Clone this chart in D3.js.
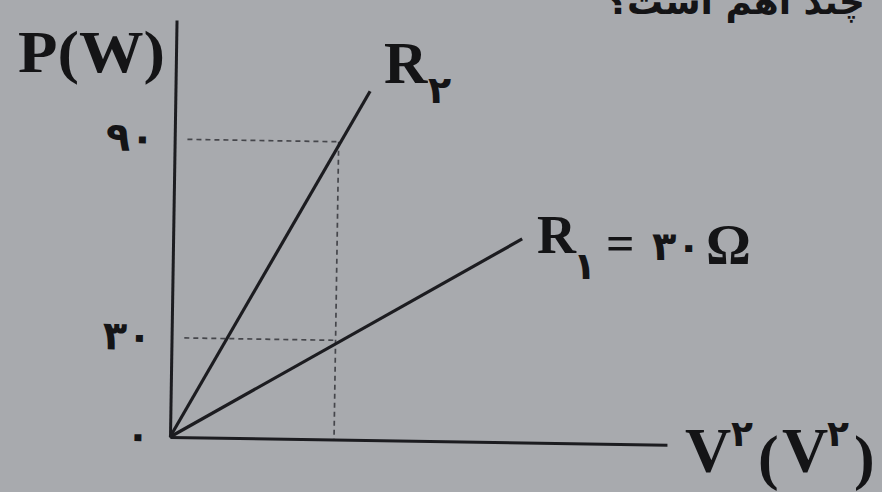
<!DOCTYPE html>
<html>
<head>
<meta charset="utf-8">
<script src="https://cdn.jsdelivr.net/npm/d3@7"></script>
<style>
  body { margin: 0; background: #a8aaae; }
  svg { display: block; }
  .lbl { font-family: "Liberation Serif", "DejaVu Serif", serif; font-weight: bold; fill: #141416; }
  .fa { font-family: "DejaVu Sans", "Noto Sans", sans-serif; font-weight: bold; fill: #141416; }
</style>
</head>
<body>
<div id="chart"></div>
<script>
// values
var xMax = 2727;           // end of the V^2 axis
var yMax = 126;            // top of the P axis
var pTicks = [0, 30, 90];
var guideV2 = 900;         // dashed vertical
var guideP = [30, 90];     // dashed horizontals
var r1Points = [[0, 0], [1915, 61.5]];
var r2Points = [[0, 0], [1068, 105.4]];

var faDigits = "۰۱۲۳۴۵۶۷۸۹";
function toFa(n) {
	return String(n).replace(/[0-9]/g, function (d) { return faDigits[+d]; });
}

var W = 882, H = 492;
var origin = { x: 170, y: 437 };

var svg = d3.select("#chart").append("svg")
	.attr("width", W)
	.attr("height", H);

svg.append("rect")
	.attr("width", W)
	.attr("height", H)
	.attr("fill", "#a8aaae");

// question text cut off at the top of the photo
svg.append("text")
	.attr("class", "fa")
	.attr("x", 865)
	.attr("y", 14)
	.attr("direction", "rtl")
	.attr("text-anchor", "start")
	.style("font-size", "36px")
	.text("چند اهم است؟");

var x = d3.scaleLinear()
	.domain([0, xMax])
	.range([0, 497]);

var y = d3.scaleLinear()
	.domain([0, yMax])
	.range([0, -417]);

// the page in the photo is slightly turned
var g = svg.append("g")
	.attr("transform", "translate(" + origin.x + "," + origin.y + ") rotate(0.9)");

// dashed guides
g.selectAll(".hguide")
	.data(guideP)
	.enter().append("line")
	.attr("class", "hguide")
	.attr("x1", x(70))
	.attr("x2", x(guideV2))
	.attr("y1", function (d) { return y(d); })
	.attr("y2", function (d) { return y(d); })
	.attr("stroke", "#45464b")
	.attr("stroke-width", 1.7)
	.attr("stroke-dasharray", "5,4");

g.append("line")
	.attr("x1", x(guideV2))
	.attr("x2", x(guideV2))
	.attr("y1", y(d3.max(guideP)))
	.attr("y2", y(0))
	.attr("stroke", "#45464b")
	.attr("stroke-width", 1.7)
	.attr("stroke-dasharray", "5,4");

// axes
var yAxis = g.append("g")
	.call(d3.axisLeft(y).tickValues(pTicks).tickSize(0).tickFormat(toFa).tickPadding(20));

var xAxis = g.append("g")
	.call(d3.axisBottom(x).tickValues([]).tickSize(0));

g.selectAll(".domain")
	.attr("stroke", "#1c1c20")
	.attr("stroke-width", 3);

yAxis.selectAll("text")
	.attr("class", "fa")
	.attr("fill", "#141416")
	.style("font-size", "40px")
	.attr("dy", "0.3em");

// lines
var line = d3.line()
	.x(function (d) { return x(d[0]); })
	.y(function (d) { return y(d[1]); });

g.selectAll(".rline")
	.data([r1Points, r2Points])
	.enter().append("path")
	.attr("class", "rline")
	.attr("d", line)
	.attr("fill", "none")
	.attr("stroke", "#1c1c20")
	.attr("stroke-width", 3.2);

// labels
svg.append("text")
	.attr("class", "lbl")
	.attr("x", 18)
	.attr("y", 72)
	.attr("textLength", 147)
	.attr("lengthAdjust", "spacingAndGlyphs")
	.style("font-size", "60px")
	.text("P(W)");

svg.append("text").attr("class", "lbl").attr("x", 384).attr("y", 83)
	.style("font-size", "60px").text("R");
svg.append("text").attr("class", "fa").attr("x", 428).attr("y", 103)
	.style("font-size", "38px").text("۲");

svg.append("text").attr("class", "lbl").attr("x", 537).attr("y", 253)
	.style("font-size", "54px").text("R");
svg.append("text").attr("class", "fa").attr("x", 573).attr("y", 279)
	.style("font-size", "38px").text("۱");
svg.append("text").attr("class", "lbl").attr("x", 606).attr("y", 260)
	.style("font-size", "50px").text("=");
svg.append("text").attr("class", "fa").attr("x", 652).attr("y", 260)
	.style("font-size", "40px").text("۳۰");
svg.append("text").attr("class", "lbl").attr("x", 706).attr("y", 264)
	.style("font-size", "56px").text("Ω");

svg.append("text").attr("class", "lbl").attr("x", 685).attr("y", 472)
	.style("font-size", "64px").text("V");
svg.append("text").attr("class", "fa").attr("x", 731).attr("y", 446)
	.style("font-size", "36px").text("۲");
svg.append("text").attr("class", "lbl").attr("x", 758).attr("y", 478)
	.style("font-size", "62px").text("(");
svg.append("text").attr("class", "lbl").attr("x", 782).attr("y", 472)
	.style("font-size", "64px").text("V");
svg.append("text").attr("class", "fa").attr("x", 827).attr("y", 446)
	.style("font-size", "36px").text("۲");
svg.append("text").attr("class", "lbl").attr("x", 854).attr("y", 478)
	.style("font-size", "62px").text(")");
</script>
</body>
</html>
